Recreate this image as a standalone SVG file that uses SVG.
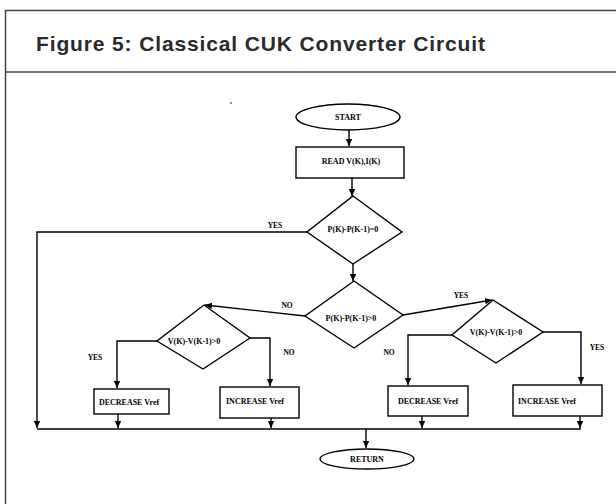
<svg xmlns="http://www.w3.org/2000/svg" width="616" height="504" viewBox="0 0 616 504">
<style>
.frame{fill:none;stroke:#444;stroke-width:1.5}
.title{font-family:"Liberation Sans",Arial,sans-serif;font-weight:bold;font-size:21px;fill:#2a2a2a}
.shape{fill:#fff;stroke:#000;stroke-width:1.4}
.t{font-family:"Liberation Serif","Times New Roman",serif;font-weight:bold;font-size:8px;fill:#000;text-anchor:middle}
.lbl{font-family:"Liberation Serif","Times New Roman",serif;font-weight:bold;font-size:7.5px;fill:#000;text-anchor:middle}
.c{fill:none;stroke:#000;stroke-width:1.4}
</style>
<defs>
<marker id="ah" markerUnits="userSpaceOnUse" markerWidth="8" markerHeight="8" refX="7" refY="4" orient="auto">
<path d="M0,0.8 L7,4 L0,7.2 Z" fill="#000"/>
</marker>
</defs>
<rect width="616" height="504" fill="#fff"/>
<g id="frame">
<rect class="frame" x="5.5" y="10.5" width="615" height="500"/>
<line class="frame" x1="5" y1="72" x2="616" y2="72"/>
<text class="title" x="36" y="51" textLength="449" lengthAdjust="spacing">Figure 5: Classical CUK Converter Circuit</text>
</g>
<g id="connectors">
<path class="c" d="M349,130 V146" marker-end="url(#ah)"/>
<path class="c" d="M352,178 V196" marker-end="url(#ah)"/>
<path class="c" d="M307,232 H37 V428" marker-end="url(#ah)"/>
<path class="c" d="M353,264 V281" marker-end="url(#ah)"/>
<path class="c" d="M305,316 L205,305" marker-end="url(#ah)"/>
<path class="c" d="M403,315 L492,300" marker-end="url(#ah)"/>
<path class="c" d="M157,341 H117 V388" marker-end="url(#ah)"/>
<path class="c" d="M250,338 H270 V386" marker-end="url(#ah)"/>
<path class="c" d="M452,335 H408 V385" marker-end="url(#ah)"/>
<path class="c" d="M543,332 H581 V384" marker-end="url(#ah)"/>
<path class="c" d="M118,414 V428" marker-end="url(#ah)"/>
<path class="c" d="M271,418 V428" marker-end="url(#ah)"/>
<path class="c" d="M422,416 V428" marker-end="url(#ah)"/>
<path class="c" d="M580,416 V428" marker-end="url(#ah)"/>
<path class="c" d="M37,429 H581"/>
<path class="c" d="M366,429 V448" marker-end="url(#ah)"/>
<text class="lbl" x="275" y="228">YES</text>
<text class="lbl" x="287" y="308">NO</text>
<text class="lbl" x="461" y="298">YES</text>
<text class="lbl" x="95" y="360">YES</text>
<text class="lbl" x="289" y="355">NO</text>
<text class="lbl" x="389" y="355">NO</text>
<text class="lbl" x="597" y="350">YES</text>
</g>
<g id="start">
<ellipse class="shape" cx="348" cy="117" rx="52" ry="13"/>
<text class="t" x="348" y="120">START</text>
</g>
<g id="read">
<rect class="shape" x="296" y="147" width="108" height="31"/>
<text class="t" x="351" y="164">READ V(K),I(K)</text>
</g>
<g id="d1">
<polygon class="shape" points="353,196 402,232 353,264 307,232"/>
<text class="t" x="353" y="232">P(K)-P(K-1)=0</text>
</g>
<g id="d2">
<polygon class="shape" points="354,281 403,315 354,348 305,316"/>
<text class="t" x="351" y="321">P(K)-P(K-1)&gt;0</text>
</g>
<g id="d4">
<polygon class="shape" points="204,305 250,338 203,369 157,341"/>
<text class="t" x="194" y="344">V(K)-V(K-1)&gt;0</text>
</g>
<g id="d3">
<polygon class="shape" points="493,300 543,332 496,363 452,335"/>
<text class="t" x="496" y="335">V(K)-V(K-1)&gt;0</text>
</g>
<g id="b1">
<rect class="shape" x="94" y="389" width="75" height="25"/>
<text class="t" x="129" y="405">DECREASE Vref</text>
</g>
<g id="b2">
<rect class="shape" x="220" y="387" width="79" height="31"/>
<text class="t" x="255" y="404">INCREASE Vref</text>
</g>
<g id="b3">
<rect class="shape" x="388" y="386" width="80" height="30"/>
<text class="t" x="428" y="404">DECREASE Vref</text>
</g>
<g id="b4">
<rect class="shape" x="513" y="385" width="89" height="31"/>
<text class="t" x="547" y="404">INCREASE Vref</text>
</g>
<g id="return">
<ellipse class="shape" cx="367" cy="459" rx="47" ry="10"/>
<text class="t" x="367" y="462">RETURN</text>
</g>
<circle cx="231" cy="103" r="0.8" fill="#000"/>
</svg>
